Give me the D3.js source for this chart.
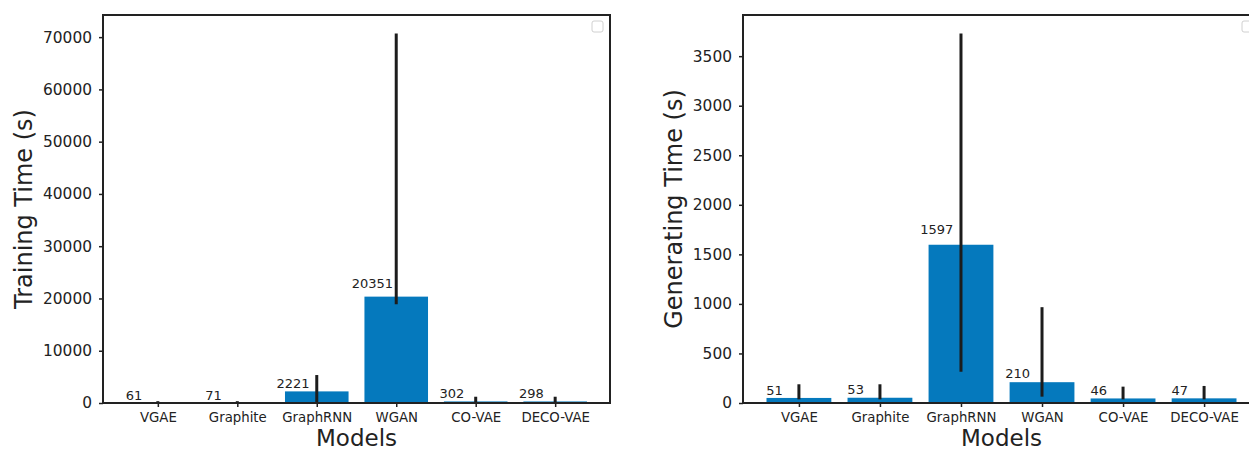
<!DOCTYPE html>
<html>
<head>
<meta charset="utf-8">
<script src="https://cdn.jsdelivr.net/npm/d3@7"></script>
<style>
  html, body { margin: 0; padding: 0; background: #fff; }
  svg { display: block; font-family: "DejaVu Sans", sans-serif; }
</style>
</head>
<body>
<svg id="chart" width="1249" height="451"></svg>
<script>
const models = ["VGAE", "Graphite", "GraphRNN", "WGAN", "CO-VAE", "DECO-VAE"];

const trainMean = [61, 71, 2221, 20351, 302, 298];
const trainLow  = [20, 30, 100, 18900, 50, 50];
const trainHigh = [350, 350, 5350, 70700, 1200, 1200];
const trainTicks = [0, 10000, 20000, 30000, 40000, 50000, 60000, 70000];

const genMean = [51, 53, 1597, 210, 46, 47];
const genLow  = [37, 37, 316, 64, 37, 37];
const genHigh = [189, 189, 3729, 967, 165, 172];
const genTicks = [0, 500, 1000, 1500, 2000, 2500, 3000, 3500];

const barColor = "#0579bd";
const ink = "#222222";

const svg = d3.select("#chart");

function panel(cfg) {
  const g = svg.append("g").attr("transform", `translate(${cfg.left},${cfg.top})`);
  const n = cfg.cats.length;
  const span = (n - 1) + 0.8;
  const pad = span * 0.05;
  const x = d3.scaleLinear().domain([-0.4 - pad, n - 1 + 0.4 + pad]).range([0, cfg.width]);
  const y = d3.scaleLinear().domain([0, d3.max(cfg.high) * 1.05]).range([cfg.height, 0]);

  const clipId = "clip" + cfg.id;
  g.append("clipPath").attr("id", clipId)
    .append("rect").attr("width", cfg.width).attr("height", cfg.height);

  const plot = g.append("g").attr("clip-path", `url(#${clipId})`);

  plot.selectAll("rect.bar").data(cfg.mean).enter().append("rect")
    .attr("class", "bar")
    .attr("x", (d, i) => x(i - 0.4))
    .attr("width", (d, i) => x(i + 0.4) - x(i - 0.4))
    .attr("y", d => y(d))
    .attr("height", d => cfg.height - y(d))
    .attr("fill", barColor);

  plot.selectAll("line.err").data(cfg.mean).enter().append("line")
    .attr("class", "err")
    .attr("x1", (d, i) => x(i)).attr("x2", (d, i) => x(i))
    .attr("y1", (d, i) => y(cfg.low[i]))
    .attr("y2", (d, i) => y(cfg.high[i]))
    .attr("stroke", "#1c1c1c").attr("stroke-width", 3);

  g.selectAll("text.val").data(cfg.mean).enter().append("text")
    .attr("class", "val")
    .attr("x", (d, i) => x(i - 0.3))
    .attr("y", d => y(d * 1.05) - 3)
    .attr("text-anchor", "middle")
    .attr("font-size", "13px")
    .attr("fill", ink)
    .text(d => d);

  // axes
  const yAxis = d3.axisLeft(y).tickValues(cfg.ticks).tickSize(4).tickPadding(7).tickFormat(d3.format("d"));
  const yg = g.append("g").call(yAxis);
  yg.select(".domain").remove();
  yg.selectAll("line").attr("stroke", ink).attr("stroke-width", 1.5);
  yg.selectAll("text").attr("font-size", "15.4px").attr("fill", ink).attr("font-family", "DejaVu Sans");

  const xAxis = d3.axisBottom(x).tickValues(d3.range(n)).tickSize(4).tickPadding(5.5).tickFormat(i => cfg.cats[i]);
  const xg = g.append("g").attr("transform", `translate(0,${cfg.height})`).call(xAxis);
  xg.select(".domain").remove();
  xg.selectAll("line").attr("stroke", ink).attr("stroke-width", 1.5);
  xg.selectAll("text").attr("font-size", "13.3px").attr("fill", ink).attr("font-family", "DejaVu Sans");

  // frame
  g.append("rect").attr("width", cfg.width).attr("height", cfg.height)
    .attr("fill", "none").attr("stroke", ink).attr("stroke-width", 2);

  // empty legend frame
  g.append("rect")
    .attr("x", cfg.width - 18).attr("y", 6)
    .attr("width", 11).attr("height", 11)
    .attr("rx", 2).attr("ry", 2)
    .attr("fill", "#fff").attr("stroke", "#d0d0d0").attr("stroke-width", 1);

  // axis titles
  g.append("text")
    .attr("x", cfg.width / 2).attr("y", cfg.height + 43)
    .attr("text-anchor", "middle").attr("font-size", "23px").attr("fill", ink)
    .text("Models");
  g.append("text")
    .attr("transform", `translate(${cfg.ylabelX},${cfg.height / 2}) rotate(-90)`)
    .attr("text-anchor", "middle").attr("font-size", "24px").attr("fill", ink)
    .text(cfg.ylabel);
}

panel({ id: 1, left: 103, top: 15, width: 507, height: 388,
  cats: models, mean: trainMean, low: trainLow, high: trainHigh, ticks: trainTicks,
  ylabel: "Training Time (s)", ylabelX: -71 });

panel({ id: 2, left: 743, top: 15, width: 517, height: 388,
  cats: models, mean: genMean, low: genLow, high: genHigh, ticks: genTicks,
  ylabel: "Generating Time (s)", ylabelX: -61 });
</script>
</body>
</html>
